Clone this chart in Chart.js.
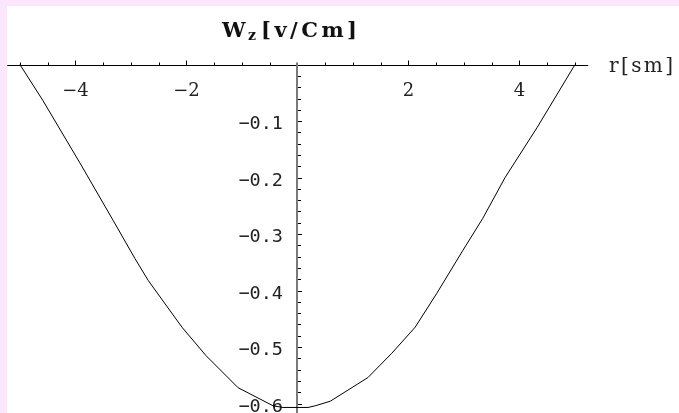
<!DOCTYPE html>
<html>
<head>
<meta charset="utf-8">
<script src="https://cdn.jsdelivr.net/npm/chart.js@4.4.1/dist/chart.umd.min.js"></script>
<style>
  html, body { margin: 0; padding: 0; background: #fff; }
  canvas { display: block; }
</style>
</head>
<body>
<canvas id="plot" width="679" height="413"></canvas>
<script>
// W_z along r, sampled points of the profile
const rValues  = [-5.0, -4.59, -3.92, -3.32, -2.93, -2.69, -2.08, -1.65, -1.07, -0.44, -0.26, 0.19, 0.32, 0.59, 1.27, 1.70, 2.12, 2.51, 2.98, 3.34, 3.74, 4.32, 5.0]
const wzValues = [0, -0.063, -0.174, -0.276, -0.343, -0.382, -0.465, -0.515, -0.572, -0.604, -0.607, -0.607, -0.604, -0.596, -0.554, -0.511, -0.465, -0.405, -0.329, -0.272, -0.200, -0.111, 0]

// axis ticks
const xTicks = [-5, -4.5, -4, -3.5, -3, -2.5, -2, -1.5, -1, -0.5, 0.5, 1, 1.5, 2, 2.5, 3, 3.5, 4, 4.5, 5]
const xMajor = [-4, -2, 2, 4]
const xLabels = ["\u22124", "\u22122", "2", "4"]
const yTicks = [-0.02, -0.04, -0.06, -0.08, -0.1, -0.12, -0.14, -0.16, -0.18, -0.2, -0.22, -0.24, -0.26, -0.28, -0.3,
  -0.32, -0.34, -0.36, -0.38, -0.4, -0.42, -0.44, -0.46, -0.48, -0.5, -0.52, -0.54, -0.56, -0.58, -0.6, -0.62]
const yMajor = [-0.1, -0.2, -0.3, -0.4, -0.5, -0.6]
const yLabels = ["\u22120.1", "\u22120.2", "\u22120.3", "\u22120.4", "\u22120.5", "\u22120.6"]

const xAxisFrom = -5.23
const xAxisTo = 5.24

// spread a string so its glyphs span the given width
let fitText = (ctx, text, x, y, width) => {
  ctx.letterSpacing = '0px'
  const w = ctx.measureText(text).width
  const n = text.length
  ctx.letterSpacing = Math.max(0, (width - w) / (n - 1)) + 'px'
  ctx.fillText(text, x, y)
  ctx.letterSpacing = '0px'
}

const mathAxes = {
  id: 'mathAxes',
  beforeDraw(chart) {
    const { ctx, width, height } = chart
    ctx.save()
    ctx.fillStyle = '#fbe6fb'
    ctx.fillRect(0, 0, width, height)
    ctx.fillStyle = '#fff'
    ctx.fillRect(7, 6, width - 7, height - 6)
    ctx.restore()
  },
  beforeDatasetsDraw(chart) {
    const { ctx, height } = chart
    const sx = chart.scales.x
    const sy = chart.scales.y
    const x0 = Math.round(sx.getPixelForValue(0))
    const y0 = Math.round(sy.getPixelForValue(0)) + 0.5

    ctx.save()
    ctx.lineWidth = 1
    ctx.strokeStyle = '#000'

    // horizontal axis with ticks pointing up
    ctx.beginPath()
    ctx.moveTo(sx.getPixelForValue(xAxisFrom), y0)
    ctx.lineTo(sx.getPixelForValue(xAxisTo), y0)
    xTicks.forEach(v => {
      const px = Math.round(sx.getPixelForValue(v)) + 0.5
      const len = xMajor.includes(v) ? 5 : 3
      ctx.moveTo(px, y0)
      ctx.lineTo(px, y0 - len)
    })
    ctx.stroke()

    // vertical axis (grey) with ticks pointing right
    ctx.strokeStyle = '#7a7a7a'
    ctx.lineWidth = 2
    ctx.beginPath()
    ctx.moveTo(x0, y0 - 3)
    ctx.lineTo(x0, height)
    ctx.stroke()

    ctx.strokeStyle = '#000'
    ctx.lineWidth = 1
    ctx.beginPath()
    yTicks.forEach(v => {
      const py = Math.round(sy.getPixelForValue(v)) + 0.5
      const len = yMajor.some(m => Math.abs(m - v) < 1e-9) ? 4 : 3
      ctx.moveTo(x0 + 1, py)
      ctx.lineTo(x0 + 1 + len, py)
    })
    ctx.stroke()

    // tick labels
    ctx.fillStyle = '#222'
    ctx.font = '18px "DejaVu Serif"'
    ctx.textAlign = 'center'
    ctx.textBaseline = 'alphabetic'
    xMajor.forEach((v, i) => {
      ctx.fillText(xLabels[i], sx.getPixelForValue(v), y0 + 30)
    })

    ctx.font = '18.5px "DejaVu Sans Mono"'
    ctx.textAlign = 'right'
    yMajor.forEach((v, i) => {
      ctx.fillText(yLabels[i], x0 - 14, sy.getPixelForValue(v) + 8)
    })

    // axis label on the right
    ctx.textAlign = 'left'
    ctx.font = '20px "DejaVu Serif"'
    fitText(ctx, 'r[sm]', 609, y0 + 6, 64)

    // plot title W_z[v/Cm]
    ctx.fillStyle = '#111'
    ctx.font = 'bold 21px "DejaVu Serif"'
    ctx.fillText('W', 222, 37)
    ctx.font = 'bold 14px "DejaVu Serif"'
    ctx.fillText('z', 248, 40)
    ctx.font = 'bold 21px "DejaVu Serif"'
    fitText(ctx, '[v/Cm]', 261, 37, 96)

    ctx.restore()
  }
}

const points = rValues.map((r, i) => ({ x: r, y: wzValues[i] }))

const chart = new Chart(document.getElementById('plot'), {
  type: 'scatter',
  data: {
    datasets: [{
      data: points,
      showLine: true,
      borderColor: '#000',
      borderWidth: 1,
      pointRadius: 0,
      tension: 0,
      fill: false
    }]
  },
  options: {
    responsive: false,
    animation: false,
    events: [],
    layout: { padding: 0 },
    plugins: {
      legend: { display: false },
      tooltip: { enabled: false },
      title: { display: false }
    },
    scales: {
      x: { type: 'linear', min: -5.36, max: 6.875, display: false },
      y: { type: 'linear', min: -0.6168, max: 0.1145, display: false }
    }
  },
  plugins: [mathAxes]
})
</script>
</body>
</html>
